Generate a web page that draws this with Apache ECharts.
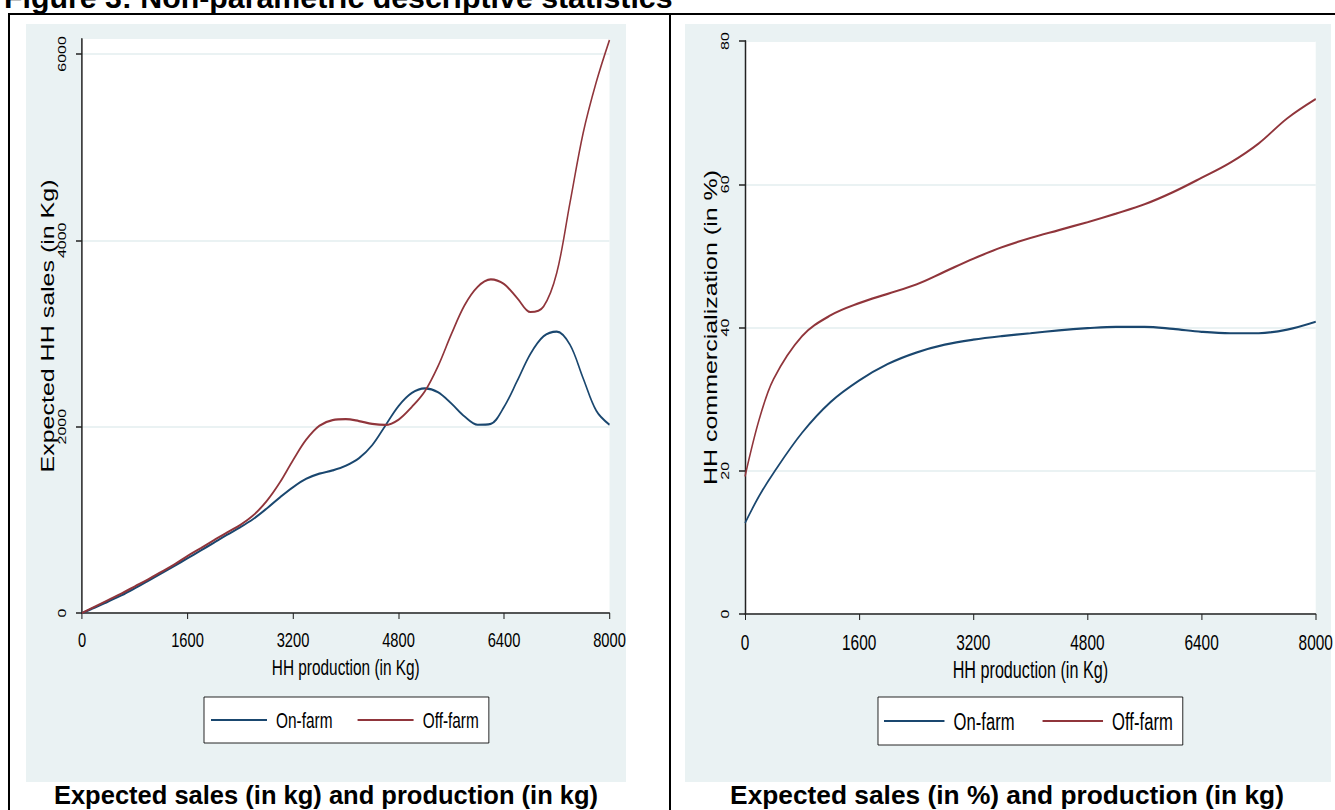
<!DOCTYPE html>
<html>
<head>
<meta charset="utf-8">
<script src="https://cdn.jsdelivr.net/npm/echarts@6/dist/echarts.min.js"></script>
<style>
html,body{margin:0;padding:0;background:#fff;overflow:hidden;width:1335px;height:810px;}
#chart{height:810px;transform-origin:0 0;}
</style>
</head>
<body>
<div id="chart"></div>
<script>
// ---- data ----
const seriesNames = ['On-farm', 'Off-farm'];
const xTicks = [0, 1600, 3200, 4800, 6400, 8000];
const salesTicks = [0, 2000, 4000, 6000];
const pctTicks = [0, 20, 40, 60, 80];

// Left panel: expected HH sales (kg) vs HH production (kg)
const salesX = [0,200,400,600,800,1000,1200,1400,1600,1800,2000,2200,2400,2600,2800,3000,3200,3400,3600,3800,4000,4200,4400,4600,4800,5000,5200,5400,5600,5800,6000,6200,6400,6600,6800,7000,7200,7400,7600,7800,8000];
const salesOnFarm = [0,60,125,190,265,345,425,505,587,670,755,840,920,1010,1120,1240,1350,1440,1495,1530,1580,1660,1800,2010,2220,2360,2410,2370,2250,2110,2020,2030,2210,2490,2780,2970,3020,2880,2520,2170,2020];
const salesOffFarm = [0,70,140,210,285,360,440,520,612,695,780,865,945,1050,1200,1400,1640,1860,2010,2070,2080,2060,2030,2018,2075,2210,2380,2650,2990,3300,3500,3580,3530,3380,3230,3290,3650,4400,5150,5700,6150];

// Right panel: HH commercialization (%) vs HH production (kg)
const pctX = [0,200,400,800,1200,1600,2000,2400,2800,3200,3600,4000,4400,4800,5200,5600,6000,6400,6800,7200,7600,8000];
const pctOnFarm = [12.7,16.5,19.7,25.3,29.6,32.6,34.9,36.5,37.6,38.3,38.8,39.2,39.6,39.9,40.1,40.1,39.8,39.4,39.2,39.2,39.7,40.8];
const pctOffFarm = [19.2,27.2,32.8,38.8,41.7,43.4,44.7,46.0,47.8,49.6,51.2,52.5,53.6,54.7,55.9,57.2,58.9,60.9,63.0,65.7,69.2,71.9];

const figureTitle = 'Figure 3: Non-parametric descriptive statistics';
const captionLeft = 'Expected sales (in kg) and production (in kg)';
const captionRight = 'Expected sales (in %) and production (in kg)';
const yNameLeft = 'Expected HH sales (in Kg)';
const yNameRight = 'HH commercialization (in %)';
const xName = 'HH production (in Kg)';

// ---- styles / layout ----
// The original graph is horizontally squeezed; the chart is drawn wider and compressed in x.
const S = 0.7;
const W = 1335 / S;
const X = v => v / S;
const NAVY = '#1A476F', MAROON = '#90353B', BG = '#EAF2F3';
const SANS = "'Liberation Sans',Arial,Helvetica,sans-serif";

const el = document.getElementById('chart');
el.style.width = W + 'px';
el.style.transform = 'scaleX(' + S + ')';

const zip = (xs, ys) => xs.map((x, i) => [x, ys[i]]);
const plain = v => String(v);

function xAxis(gridIndex, k) {
  return {
    type: 'value', gridIndex, min: 0, max: 8000, interval: 1600,
    name: xName, nameLocation: 'middle', nameGap: 43,
    nameTextStyle: {fontFamily: SANS, fontSize: 22 * k, color: '#000'},
    axisLine: {show: true, onZero: false, lineStyle: {color: '#222', width: 1.5}},
    axisTick: {show: true, inside: false, length: 6, customValues: xTicks, lineStyle: {color: '#222', width: 1.5}},
    axisLabel: {fontFamily: SANS, fontSize: 21 * k, color: '#000', margin: 17, formatter: plain, customValues: xTicks},
    splitLine: {show: false}
  };
}
function yAxis(gridIndex, max, interval, ticks, name) {
  return {
    type: 'value', gridIndex, min: 0, max, interval,
    name, nameLocation: 'middle', nameRotate: 90, nameGap: X(23),
    nameTextStyle: {fontFamily: SANS, fontSize: 25, color: '#000'},
    axisLine: {show: true, onZero: false, lineStyle: {color: '#222', width: 1.5 / S}},
    axisTick: {show: true, inside: false, length: X(6), customValues: ticks, lineStyle: {color: '#222', width: 1.5}},
    axisLabel: {fontFamily: SANS, fontSize: 16, color: '#000', rotate: 90, margin: X(14), formatter: plain, customValues: ticks},
    splitLine: {show: true, lineStyle: {color: BG, width: 2}}
  };
}
function legend(left, k, gap, padL, padR) {
  return {
    data: seriesNames, left: X(left), top: 697, orient: 'horizontal',
    icon: 'rect', itemWidth: X(56 * k), itemHeight: 2, itemGap: X(gap),
    borderColor: '#000', borderWidth: 1, backgroundColor: '#fff',
    padding: [12, X(padR), 12, X(padL)],
    textStyle: {fontFamily: SANS, fontSize: 22 * k, color: '#000', padding: [0, 0, 0, 8]}
  };
}
function lineSeries(name, xi, yi, data, color) {
  return {
    type: 'line', name, xAxisIndex: xi, yAxisIndex: yi, data,
    smooth: 0.35, showSymbol: false, symbol: 'none',
    lineStyle: {color, width: 2.2}, itemStyle: {color}
  };
}

const chart = echarts.init(el, null, {renderer: 'svg', width: W, height: 810});
chart.setOption({
  animation: false,
  backgroundColor: '#fff',
  graphic: [
    {type: 'rect', z: -10, shape: {x: X(26), y: 24, width: X(600), height: 758}, style: {fill: BG}},
    {type: 'rect', z: -10, shape: {x: X(685), y: 24, width: X(646), height: 758}, style: {fill: BG}},
    {type: 'line', shape: {x1: X(8), y1: 14, x2: W, y2: 14}, style: {stroke: '#000', lineWidth: 2}},
    {type: 'line', shape: {x1: X(9), y1: 13, x2: X(9), y2: 810}, style: {stroke: '#000', lineWidth: 2 / S}},
    {type: 'line', shape: {x1: X(670), y1: 13, x2: X(670), y2: 810}, style: {stroke: '#000', lineWidth: 2 / S}},
    {type: 'text', x: X(4), y: -2.5, scaleX: 1 / S, style: {text: figureTitle, fontFamily: SANS, fontWeight: 'bold', fontSize: 30.3, fill: '#000', align: 'left', verticalAlign: 'middle'}},
    {type: 'text', x: X(326), y: 795, scaleX: 1 / S, style: {text: captionLeft, fontFamily: SANS, fontWeight: 'bold', fontSize: 25.5, fill: '#000', align: 'center', verticalAlign: 'middle'}},
    {type: 'text', x: X(1007), y: 795, scaleX: 1 / S, style: {text: captionRight, fontFamily: SANS, fontWeight: 'bold', fontSize: 26.3, fill: '#000', align: 'center', verticalAlign: 'middle'}}
  ],
  grid: [
    {left: X(82), right: W - X(609.5), top: 39, bottom: 810 - 613, show: true, backgroundColor: '#fff', borderWidth: 0, containLabel: false},
    {left: X(745), right: W - X(1316), top: 41, bottom: 810 - 614, show: true, backgroundColor: '#fff', borderWidth: 0, containLabel: false}
  ],
  xAxis: [xAxis(0, 1), xAxis(1, 1.05)],
  yAxis: [
    yAxis(0, 6160, 2000, salesTicks, yNameLeft),
    yAxis(1, 80, 20, pctTicks, yNameRight)
  ],
  legend: [legend(204, 1, 25, 7, 10), legend(878, 1.08, 28, 6, 10)],
  series: [
    lineSeries(seriesNames[0], 0, 0, zip(salesX, salesOnFarm), NAVY),
    lineSeries(seriesNames[1], 0, 0, zip(salesX, salesOffFarm), MAROON),
    lineSeries(seriesNames[0], 1, 1, zip(pctX, pctOnFarm), NAVY),
    lineSeries(seriesNames[1], 1, 1, zip(pctX, pctOffFarm), MAROON)
  ]
});
</script>
</body>
</html>
